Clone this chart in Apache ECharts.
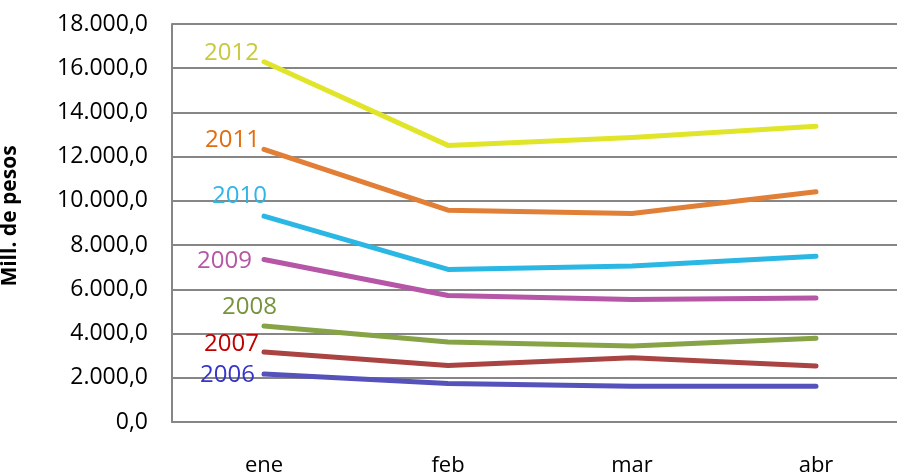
<!DOCTYPE html>
<html>
<head>
<meta charset="utf-8">
<script src="https://cdn.jsdelivr.net/npm/echarts@6/dist/echarts.min.js"></script>
<style>
  html, body { margin: 0; padding: 0; background: #fff; }
  #main { width: 897px; height: 473px; }
</style>
</head>
<body>
<div id="main"></div>
<script>
// meses
var months = ['ene', 'feb', 'mar', 'abr'];
var years = ['2006', '2007', '2008', '2009', '2010', '2011', '2012'];

// Mill. de pesos
var v2006 = [2170, 1740, 1620, 1620];
var v2007 = [3170, 2550, 2910, 2530];
var v2008 = [4340, 3620, 3440, 3790];
var v2009 = [7350, 5720, 5540, 5610];
var v2010 = [9310, 6900, 7060, 7500];
var v2011 = [12330, 9580, 9430, 10410];
var v2012 = [16290, 12510, 12870, 13380];

var yTicks = [0, 18000, 2000]; // min, max, paso

var lineColors = ['#5652bb', '#a94442', '#86a346', '#b556a6', '#2bb7e3', '#e07f35', '#e0e52a'];
var labelColors = ['#3535cc', '#c00000', '#77933c', '#b556a6', '#2fb5e6', '#e46c0a', '#c9c93e'];
var labelOffsets = [[-9, 1], [-5, -8], [13, -19], [-12, 2], [3, -20], [-4, -9], [-5, -9]];

function fmt(v) {
	if (v == 0) return '0,0';
	var miles = Math.floor(v / 1000);
	var resto = String(v % 1000);
	while (resto.length < 3) resto = '0' + resto;
	return miles + '.' + resto + ',0';
}

function makeSeries(i, values) {
	var data = values.slice();
	data[0] = {
		value: values[0],
		label: {
			show: true,
			position: 'left',
			distance: 0,
			offset: labelOffsets[i],
			formatter: years[i],
			color: labelColors[i],
			fontFamily: 'Open Sans',
			fontSize: 24
		}
	};
	return {
		name: years[i],
		type: 'line',
		data: data,
		symbol: 'circle',
		symbolSize: 0.01,
		showSymbol: true,
		itemStyle: { color: lineColors[i] },
		lineStyle: { color: lineColors[i], width: 5, cap: 'round', join: 'round' },
		emphasis: { disabled: true }
	};
}

var chart = echarts.init(document.getElementById('main'));
var allValues = [v2006, v2007, v2008, v2009, v2010, v2011, v2012];
var series = [];
for (var i = 0; i < allValues.length; i++) {
	series.push(makeSeries(i, allValues[i]));
}

var option = {
	animation: false,
	backgroundColor: '#fff',
	grid: {
		left: 172,
		top: 24,
		width: 736,
		height: 398,
		containLabel: false,
		outerBoundsMode: 'none'
	},
	xAxis: {
		type: 'category',
		data: months,
		boundaryGap: true,
		axisLine: { show: true, lineStyle: { color: '#868686', width: 2 } },
		axisTick: { show: false },
		axisLabel: {
			margin: 33,
			color: '#000',
			fontFamily: 'Open Sans',
			fontSize: 22
		}
	},
	yAxis: {
		type: 'value',
		min: yTicks[0],
		max: yTicks[1],
		interval: yTicks[2],
		name: 'Mill. de pesos',
		nameLocation: 'middle',
		nameRotate: 90,
		nameGap: 151,
		nameTextStyle: {
			color: '#000',
			fontFamily: 'Open Sans',
			fontWeight: 'bold',
			fontSize: 21,
			padding: [0, 0, 0, 14]
		},
		axisLine: { show: true, lineStyle: { color: '#868686', width: 2 } },
		axisTick: { show: false },
		splitLine: { show: true, lineStyle: { color: '#868686', width: 2 } },
		axisLabel: {
			margin: 24,
			color: '#000',
			fontFamily: 'Open Sans',
			fontSize: 23,
			formatter: fmt
		}
	},
	series: series
};
chart.setOption(option);
</script>
</body>
</html>
